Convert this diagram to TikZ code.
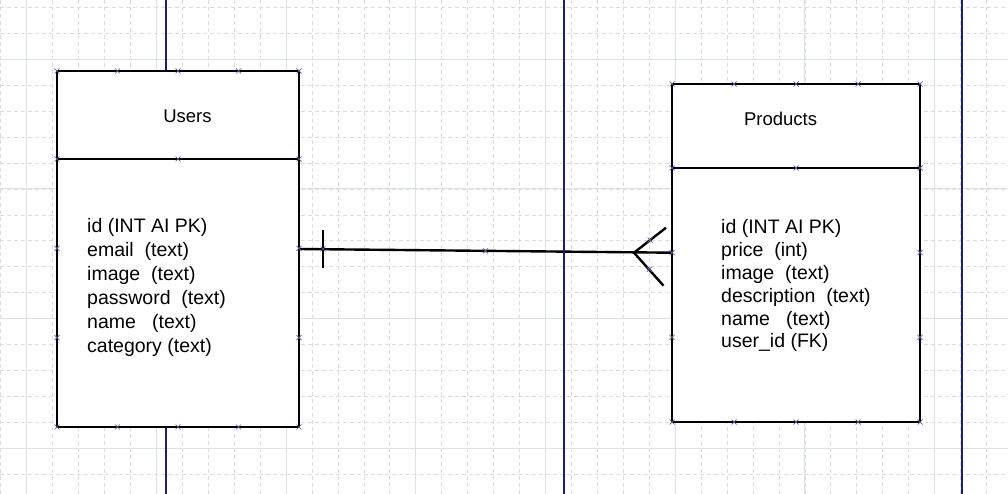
\documentclass[tikz,border=0pt]{standalone}
\usepackage{fontspec}
\setmainfont{Liberation Sans}
\usetikzlibrary{calc}
\definecolor{gridline}{HTML}{DCDCDC}
\definecolor{gridmajor}{HTML}{DCE3E3}
\definecolor{pageline}{HTML}{1E1E6E}
\definecolor{hmark}{HTML}{5A5AA0}
\tikzset{>=latex}

\begin{document}
\begin{tikzpicture}[x=1bp,y=-1bp,
	minor/.style={gridline, dash pattern=on 4bp off 3bp, line width=0.8bp},
	major/.style={gridmajor, line width=1bp},
	page/.style={pageline, line width=1.1bp},
	table/.style={black, line width=1.3bp, fill=white},
	relation/.style={black, line width=2.4bp},
	title/.style={font=\fontsize{18.5bp}{22bp}\selectfont, anchor=base, inner sep=0pt},
	field/.style={font=\fontsize{19.5bp}{24bp}\selectfont, anchor=base west, inner sep=0pt},
	handle/.style={hmark, line width=0.7bp}]
	\useasboundingbox[fill=white] (0,0) rectangle (1008,494);

	% Background grid
	\foreach \x in {0,...,38} \draw[minor] ({0.77+25.94*\x},0) -- ++(0,494);
	\foreach \y in {0,...,18} \draw[minor] (0,{7.44+25.94*\y}) -- ++(1008,0);
	\foreach \x in {0,...,7} \draw[major] ({26.7+129.7*\x},0) -- ++(0,494);
	\foreach \y in {0,...,3} \draw[major] (0,{59.3+129.7*\y}) -- ++(1008,0);

	% Lifeline behind the Users table
	\draw[page] (166,0) -- (166,494);

	% Users table
	\draw[table] (57,71) rectangle (299,427);
	\draw[table] (57,159) -- (299,159);
	\node[title] (usersTitle) at (187.5,123) {Users};
	\foreach \f [count=\i] in {id (INT AI PK), email\ \ (text), image\ \ (text),
		password\ \ (text), name\ \ \ (text), category (text)}
		\node[field] (userField\i) at (87,{233+24*(\i-1)}) {\f};

	% Products table
	\draw[table] (672,84) rectangle (920,422);
	\draw[table] (672,168) -- (920,168);
	\node[title] (prodTitle) at (780.5,126) {Products};
	\foreach \f [count=\i] in {id (INT AI PK), price\ \ (int), image\ \ (text),
		description\ \ (text), name\ \ \ (text), user\_id (FK)}
		\node[field] (prodField\i) at (721,{234+22.8*(\i-1)}) {\f};

	% One-to-many relation
	\coordinate (usersHook) at (299,249);   % on Users
	\coordinate (prodHook) at (672,252.7);  % on Products
	\draw[relation] (usersHook) -- (prodHook);
	\draw[relation] ($(usersHook)+(24,-19)$) -- ++(0,38); % one
	\draw[relation] ($(prodHook)+(-6,-25)$) -- ($(prodHook)+(-38,0)$)
		-- ($(prodHook)+(-8.5,33)$); % many

	% Page borders
	\draw[page] (564,0) -- (564,494);
	\draw[page] (962,0) -- (962,494);

	% Connection handles
	\foreach \p in {(57,71),(117.5,71),(178,71),(238.5,71),(299,71),
		(57,159),(178,159),(299,159),(57,248.3),(299,248.3),(57,337.7),(299,337.7),
		(57,427),(117.5,427),(178,427),(238.5,427),(299,427),
		(672,84),(734,84),(796,84),(858,84),(920,84),
		(672,168),(796,168),(920,168),(672,252.7),(920,252.7),(672,337.3),(920,337.3),
		(672,422),(734,422),(796,422),(858,422),(920,422),
		(323,249),(485.5,250.8),(650,240),(649.3,269.3)}
		\draw[handle] \p +(-2.5,-2.5) -- +(2.5,2.5) +(-2.5,2.5) -- +(2.5,-2.5);
\end{tikzpicture}
\end{document}
